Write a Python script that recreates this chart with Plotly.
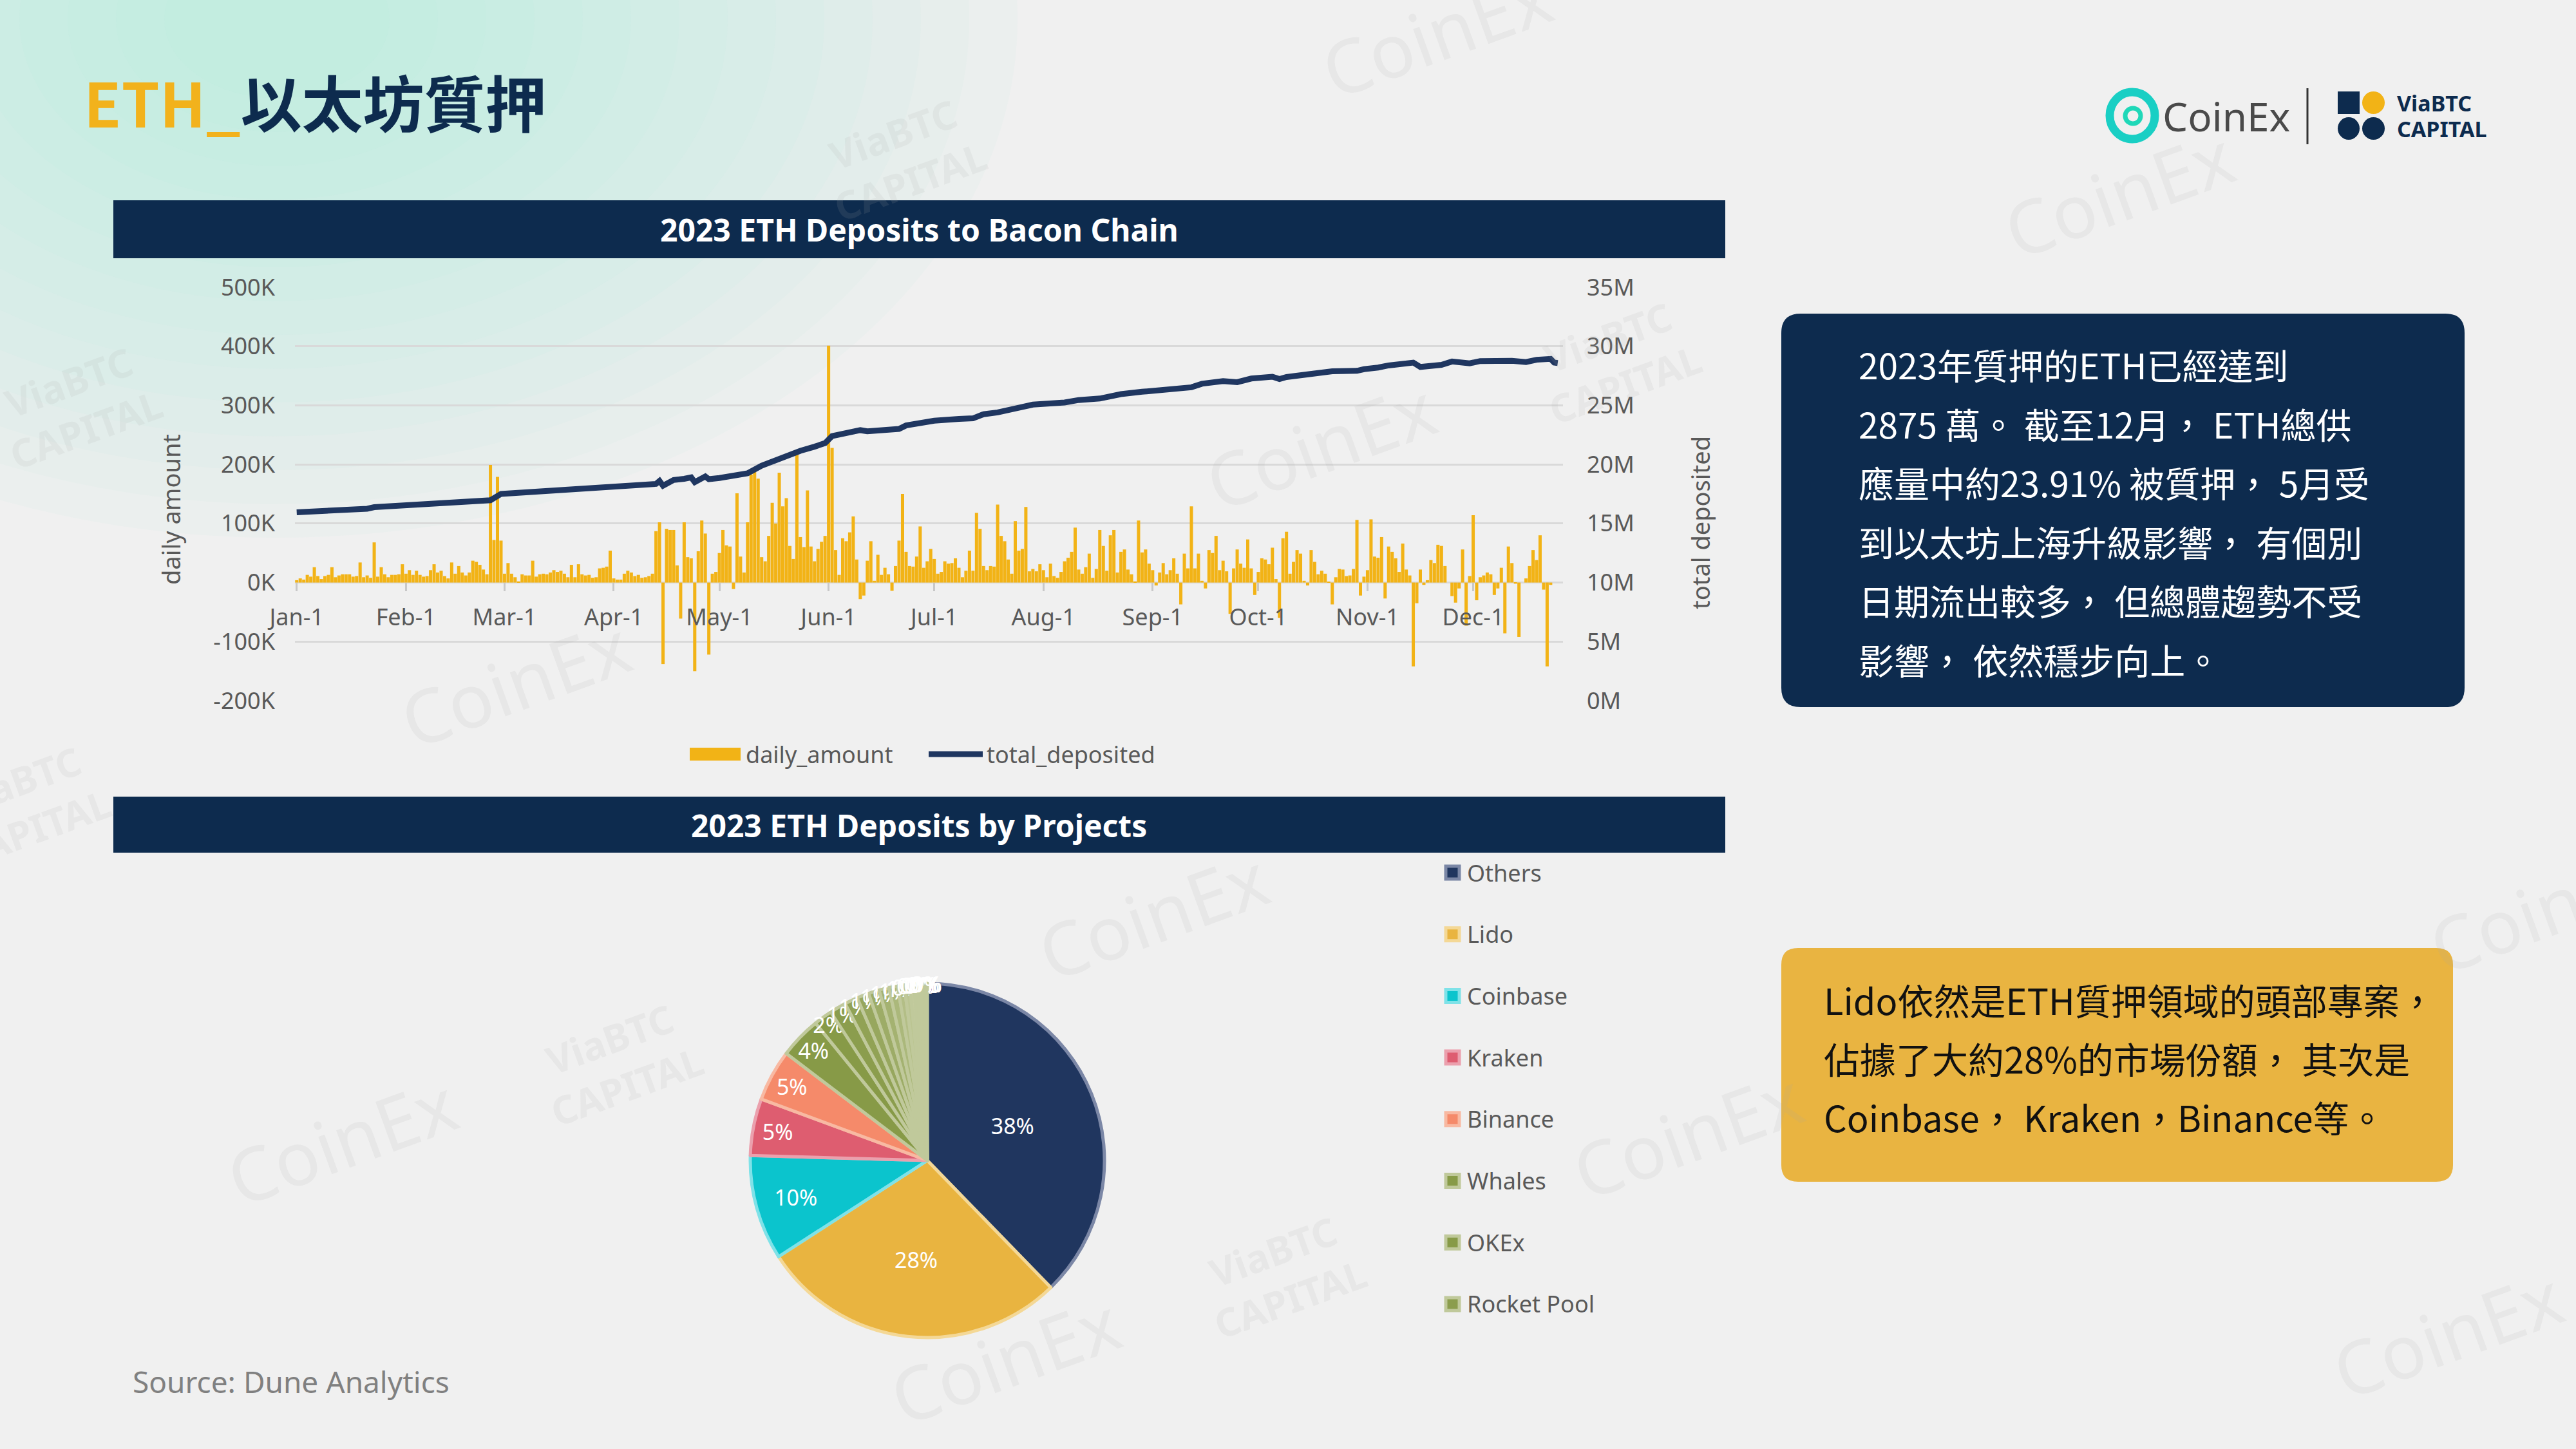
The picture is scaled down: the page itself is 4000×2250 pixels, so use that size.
import pandas as pd
import plotly.graph_objects as go

W, H = 4000, 2250


def fx(x):
    return x / W


def fy(y):
    return 1 - y / H


# ---------------- data ----------------
# daily net deposits to the beacon chain, thousands of ETH, from 2023-01-01
daily_amount_k = [
    4, 7, 5, 13, 10, 26, 11, 6, 11, 13, 26, 9, 12, 14, 14, 14, 10, 11, 34, 9,
    12, 8, 68, 10, 26, 14, 9, 13, 13, 14, 31, 15, 21, 13, 20, 13, 10, 11, 21, 31,
    17, 20, 11, 7, 34, 15, 28, 17, 12, 17, 37, 35, 30, 22, 14, 199, 72, 179, 71, 15,
    33, 15, 9, 2, 14, 12, 12, 37, 10, 14, 15, 14, 17, 21, 18, 20, 15, 9, 30, 9,
    31, 14, 12, 13, 8, 9, 24, 25, 27, 54, 7, 5, 5, 15, 20, 17, 11, 13, 8, 9,
    11, 15, 87, 102, -138, 91, 89, 89, 29, -61, 102, 43, 41, -150, 53, 105, 83, -122, 15, 18,
    50, 89, 63, 61, -11, 151, 44, 17, 102, 183, 188, 176, 43, 36, 79, 135, 100, 186, 129, 143,
    62, 40, 217, 77, 60, 156, 61, 36, 57, 69, 79, 401, 228, 55, 13, 75, 70, 85, 112, 39,
    -28, -22, 37, 70, 3, 47, 13, 25, 14, -14, 28, 71, 150, 52, 28, 27, 44, 95, 25, 36,
    57, 40, 15, 18, 36, 32, 33, 41, 25, 9, 20, 54, 20, 118, 91, 28, 21, 28, 27, 132,
    79, 70, 39, 15, 104, 54, 57, 128, 19, 23, 19, 31, 21, 9, 32, 11, 8, 18, 36, 42,
    52, 93, 22, 15, 26, 49, 8, 23, 89, 62, 20, 80, 89, 17, 52, 56, 22, 14, 2, 105,
    51, 56, 32, 21, -5, 17, 33, 14, 21, 41, 15, -37, 49, 24, 129, 24, 49, 3, -10, 55,
    50, 79, 21, 37, 19, -53, 24, 56, 32, 25, 73, 24, -21, 18, 41, 39, 31, 59, 6, -60,
    75, 86, 15, 35, 55, 49, 3, -5, 55, 35, 14, 20, 15, 1, -37, 9, 23, 22, 11, 12,
    23, 106, -22, 10, 21, 107, 44, 42, 77, -27, 61, 52, 41, 18, 66, 22, 12, -142, -35, 22,
    -4, 4, 38, 33, 64, 62, 28, 0, -23, -34, -10, 56, -73, 11, 114, -30, 9, 12, 17, 14,
    -21, -10, 25, -86, 61, 33, -2, -92, 0, 7, 28, 55, 38, 80, -12, -142, -4,
]
days = pd.date_range("2023-01-01", periods=len(daily_amount_k), freq="D")

# total deposited, millions of ETH
total_dates = [
    "2023-01-01", "2023-01-08", "2023-01-15", "2023-01-21", "2023-01-23", "2023-01-29",
    "2023-02-05", "2023-02-12", "2023-02-19", "2023-02-25", "2023-02-28", "2023-03-05",
    "2023-03-12", "2023-03-19", "2023-03-26", "2023-04-02", "2023-04-09", "2023-04-13",
    "2023-04-14", "2023-04-15", "2023-04-18", "2023-04-19", "2023-04-20", "2023-04-21",
    "2023-04-23", "2023-04-24", "2023-04-27", "2023-04-28", "2023-05-01", "2023-05-09",
    "2023-05-13", "2023-05-15", "2023-05-20", "2023-05-24", "2023-05-28", "2023-05-31",
    "2023-06-02", "2023-06-08", "2023-06-10", "2023-06-12", "2023-06-21", "2023-06-23",
    "2023-06-28", "2023-07-01", "2023-07-08", "2023-07-12", "2023-07-15", "2023-07-19",
    "2023-07-25", "2023-07-29", "2023-08-07", "2023-08-11", "2023-08-17", "2023-08-23",
    "2023-08-29", "2023-09-05", "2023-09-12", "2023-09-15", "2023-09-21", "2023-09-25",
    "2023-09-29", "2023-10-05", "2023-10-07", "2023-10-09", "2023-10-15", "2023-10-22",
    "2023-10-29", "2023-10-31", "2023-11-04", "2023-11-07", "2023-11-14", "2023-11-16",
    "2023-11-22", "2023-11-25", "2023-11-30", "2023-12-03", "2023-12-12", "2023-12-16",
    "2023-12-19", "2023-12-23", "2023-12-24", "2023-12-25",
]
total_deposited_m = [
    15.95, 16.03, 16.14, 16.25, 16.38, 16.47,
    16.58, 16.69, 16.82, 16.97, 17.5, 17.61,
    17.72, 17.89, 18.07, 18.2, 18.3, 18.35,
    18.6, 18.2, 18.68, 18.72, 18.65, 18.78,
    18.9, 18.5, 18.98, 18.75, 18.85, 19.25,
    19.9, 20.14, 20.7, 21.15, 21.5, 21.8,
    22.4, 22.8, 22.9, 22.8, 23.0, 23.3,
    23.5, 23.7, 23.85, 23.9, 24.25, 24.4,
    24.8, 25.06, 25.24, 25.45, 25.58, 25.95,
    26.15, 26.4, 26.53, 26.83, 27.05, 26.96,
    27.27, 27.42, 27.23, 27.4, 27.64, 27.88,
    27.92, 28.06, 28.2, 28.38, 28.62, 28.25,
    28.43, 28.71, 28.56, 28.75, 28.77, 28.67,
    28.86, 28.93, 28.62, 28.58,
]

left_tickvals = [-200, -100, 0, 100, 200, 300, 400, 500]
left_ticktext = ["-200K", "-100K", "0K", "100K", "200K", "300K", "400K", "500K"]
right_tickvals = [0, 5, 10, 15, 20, 25, 30, 35]
right_ticktext = ["0M", "5M", "10M", "15M", "20M", "25M", "30M", "35M"]

projects = ["Others", "Lido", "Coinbase", "Kraken", "Binance", "Whales", "OKEx",
            "Rocket Pool", "Stakefish", "Figment", "Staked.us", "Bitcoin Suisse",
            "Frax Finance", "StakeWise", "Ankr", "Kiln", "Abyss Finance", "Huobi",
            "Bitfinex", "Allnodes", "Blox Staking", "Celsius"]
project_share = [37.8, 28.2, 9.6, 5.2, 4.7, 3.8, 1.7, 1.5, 1.2, 1.1, 1.0, 0.9,
                 0.8, 0.6, 0.5, 0.4, 0.3, 0.3, 0.2, 0.2, 0.1, 0.1]
slice_colors = ["#20365f", "#e9b440", "#0bc4cd", "#de5d70", "#f58a6a",
                "#879a47", "#879a47", "#8b9d4d", "#91a255", "#97a75e", "#9dac67",
                "#a4b271", "#abb87b", "#b3be86", "#bbc592", "#c3cb9e", "#cbd2aa",
                "#d4d9b7", "#dce0c4", "#e5e8d2", "#edefdf", "#f4f5ea"]
slice_borders = ["#7b87a6", "#f4d896", "#7fe2e8", "#eba0ad", "#f8b9a2"] + ["#c0c99b"] * 17
legend_count = 8

summary_lines = [
    "2023年質押的ETH已經達到",
    "2875 萬。 截至12月， ETH總供",
    "應量中約23.91% 被質押， 5月受",
    "到以太坊上海升級影響， 有個別",
    "日期流出較多， 但總體趨勢不受",
    "影響， 依然穩步向上。",
]
lido_lines = [
    "Lido依然是ETH質押領域的頭部專案，",
    "佔據了大約28%的市場份額， 其次是",
    "Coinbase， Kraken，Binance等。",
]

NAVY = "#0d2b4e"
GREY_TXT = "#595959"
FONT = "Noto Sans"
CJK = "Noto Sans CJK TC"

fig = go.Figure()

fig.add_trace(go.Bar(x=days, y=daily_amount_k, name="daily_amount",
                     marker=dict(color="#f2b316", line=dict(width=0)),
                     yaxis="y", showlegend=False))
fig.add_trace(go.Scatter(x=pd.to_datetime(total_dates), y=total_deposited_m,
                         name="total_deposited", mode="lines",
                         line=dict(color="#1f3660", width=9),
                         yaxis="y2", showlegend=False))

fig.add_trace(go.Pie(labels=projects, values=project_share, sort=False,
                     direction="clockwise", rotation=0,
                     domain=dict(x=[fx(1165), fx(1715)], y=[fy(2077), fy(1527)]),
                     marker=dict(colors=slice_colors,
                                 line=dict(color=slice_borders, width=5)),
                     texttemplate="%{percent:.0%}", textposition="inside",
                     insidetextorientation="horizontal",
                     textfont=dict(color="white", size=34, family=FONT),
                     showlegend=False))


def rounded_rect(x0, y0, x1, y1, r):
    rx, ry = r / W, r / H
    a, b, c, d = fx(x0), fx(x1), fy(y0), fy(y1)
    return (f"M{a + rx},{c} L{b - rx},{c} Q{b},{c} {b},{c - ry} "
            f"L{b},{d + ry} Q{b},{d} {b - rx},{d} L{a + rx},{d} "
            f"Q{a},{d} {a},{d + ry} L{a},{c - ry} Q{a},{c} {a + rx},{c} Z")


shapes = []
# soft mint glow in the top-left corner
for k in range(14):
    r = 1150 - k * 75
    shapes.append(dict(type="circle", xref="paper", yref="paper", layer="below",
                       x0=fx(430 - r), x1=fx(430 + r), y0=fy(30 + 0.7 * r), y1=fy(30 - 0.7 * r),
                       fillcolor="#a6ead8", opacity=0.055, line=dict(width=0)))
# header bars
for y0, y1 in [(311, 401), (1237, 1324)]:
    shapes.append(dict(type="rect", xref="paper", yref="paper", layer="below",
                       x0=fx(176), x1=fx(2679), y0=fy(y1), y1=fy(y0),
                       fillcolor=NAVY, line=dict(width=0)))
# text boxes
shapes.append(dict(type="path", xref="paper", yref="paper", path=rounded_rect(2766, 487, 3827, 1098, 30),
                   fillcolor=NAVY, line=dict(width=0)))
shapes.append(dict(type="path", xref="paper", yref="paper", path=rounded_rect(2766, 1472, 3809, 1835, 26),
                   fillcolor="#e9b441", line=dict(width=0)))
# top chart legend symbols
shapes.append(dict(type="rect", xref="paper", yref="paper", x0=fx(1071), x1=fx(1150),
                   y0=fy(1181), y1=fy(1161), fillcolor="#f2b316", line=dict(width=0)))
shapes.append(dict(type="line", xref="paper", yref="paper", x0=fx(1442), x1=fx(1526),
                   y0=fy(1171), y1=fy(1171), line=dict(color="#1f3660", width=9)))
# pie legend symbols
for i in range(legend_count):
    cy = 1355 + i * 95.7
    shapes.append(dict(type="rect", xref="paper", yref="paper", x0=fx(2245), x1=fx(2266),
                       y0=fy(cy + 10), y1=fy(cy - 10), fillcolor=slice_colors[i],
                       line=dict(color=slice_borders[i], width=5)))
# logos
shapes.append(dict(type="circle", xref="paper", yref="paper", x0=fx(3276), x1=fx(3346),
                   y0=fy(216), y1=fy(143), line=dict(color="#19cfc4", width=13)))
shapes.append(dict(type="circle", xref="paper", yref="paper", x0=fx(3300), x1=fx(3324),
                   y0=fy(192), y1=fy(168), line=dict(color="#1fd8b8", width=7)))
shapes.append(dict(type="line", xref="paper", yref="paper", x0=fx(3583), x1=fx(3583),
                   y0=fy(224), y1=fy(137), line=dict(color="#333333", width=3)))
shapes.append(dict(type="rect", xref="paper", yref="paper", x0=fx(3630), x1=fx(3664),
                   y0=fy(177), y1=fy(142), fillcolor=NAVY, line=dict(width=0)))
shapes.append(dict(type="circle", xref="paper", yref="paper", x0=fx(3668), x1=fx(3703),
                   y0=fy(177), y1=fy(142), fillcolor="#f2b316", line=dict(width=0)))
shapes.append(dict(type="circle", xref="paper", yref="paper", x0=fx(3630), x1=fx(3664),
                   y0=fy(217), y1=fy(182), fillcolor=NAVY, line=dict(width=0)))
shapes.append(dict(type="circle", xref="paper", yref="paper", x0=fx(3668), x1=fx(3703),
                   y0=fy(217), y1=fy(182), fillcolor=NAVY, line=dict(width=0)))

ann = []


def text(x, y, s, size, color, family=FONT, xanchor="left", angle=0, bold=False):
    if bold:
        s = "<b>" + s + "</b>"
    ann.append(dict(x=fx(x), y=fy(y), xref="paper", yref="paper", text=s, showarrow=False,
                    xanchor=xanchor, yanchor="middle", textangle=angle,
                    font=dict(size=size, color=color, family=family)))


# watermarks
for x, y in [(2230, 50), (3290, 300), (2050, 690), (800, 1060), (1790, 1420),
             (530, 1770), (2620, 1760), (1560, 2110), (3800, 2070), (3950, 1410)]:
    text(x, y, "CoinEx", 115, "rgba(170,170,170,0.13)", xanchor="center", angle=-20)
for x, y in [(1400, 245), (120, 630), (2510, 560), (960, 1650), (1990, 1980), (40, 1250)]:
    text(x, y, "ViaBTC<br>CAPITAL", 60, "rgba(170,170,170,0.13)", xanchor="center", angle=-20, bold=True)

text(128, 156, "<span style='color:#f2b21c'>ETH_</span>以太坊質押", 95, NAVY, family=CJK, bold=True)
text(1427, 356, "2023 ETH Deposits to Bacon Chain", 48, "white", xanchor="center", bold=True)
text(1427, 1281, "2023 ETH Deposits by Projects", 48, "white", xanchor="center", bold=True)
text(265, 791, "daily amount", 38, GREY_TXT, xanchor="center", angle=-90)
text(2640, 812, "total deposited", 38, GREY_TXT, xanchor="center", angle=-90)
text(1156, 1171, "daily_amount", 36, GREY_TXT)
text(1530, 1171, "total_deposited", 36, GREY_TXT)
for i in range(legend_count):
    text(2276, 1355 + i * 95.7, projects[i], 36, GREY_TXT)
for i, line in enumerate(summary_lines):
    text(2884, 565 + i * 91.5, line, 55, "white", family=CJK)
for i, line in enumerate(lido_lines):
    text(2830, 1551 + i * 91, line, 56, "#111111", family=CJK)
text(204, 2145, "Source: Dune Analytics", 46, "#808080")
text(3356, 180, "CoinEx", 62, "#4a4a4a")
text(3720, 160, "ViaBTC", 34, NAVY, bold=True)
text(3720, 200, "CAPITAL", 34, NAVY, bold=True)

fig.update_layout(
    width=W, height=H, margin=dict(l=0, r=0, t=0, b=0, pad=0), autosize=False,
    paper_bgcolor="#f0f0f0", plot_bgcolor="rgba(0,0,0,0)",
    bargap=0.08, shapes=shapes, annotations=ann,
    uniformtext=dict(minsize=34, mode="show"),
    xaxis=dict(domain=[fx(458), fx(2427)], anchor="free", position=fy(904),
               range=["2022-12-31 12:00", "2023-12-26 12:00"], type="date",
               tick0="2023-01-01", dtick="M1", tickformat="%b-%-d",
               showgrid=False, zeroline=False, showline=False, automargin=False,
               ticks="outside", ticklen=13, tickwidth=3, tickcolor="#c8c8c8",
               ticklabelstandoff=10,
               tickfont=dict(size=36, color=GREY_TXT, family=FONT)),
    yaxis=dict(domain=[fy(1088), fy(446)], anchor="x", range=[-200, 500],
               tickvals=left_tickvals, ticktext=left_ticktext, automargin=False,
               showgrid=True, gridcolor="#d9d9d9", gridwidth=3, zeroline=False,
               ticklabelstandoff=30,
               tickfont=dict(size=36, color=GREY_TXT, family=FONT)),
    yaxis2=dict(domain=[fy(1088), fy(446)], anchor="x", overlaying="y", side="right",
                range=[0, 35], tickvals=right_tickvals, ticktext=right_ticktext,
                showgrid=False, zeroline=False, ticklabelstandoff=36, automargin=False,
                tickfont=dict(size=36, color=GREY_TXT, family=FONT)),
)

fig.write_html("out.html", config={"displayModeBar": False},
               post_script="document.body.style.margin='0';")
